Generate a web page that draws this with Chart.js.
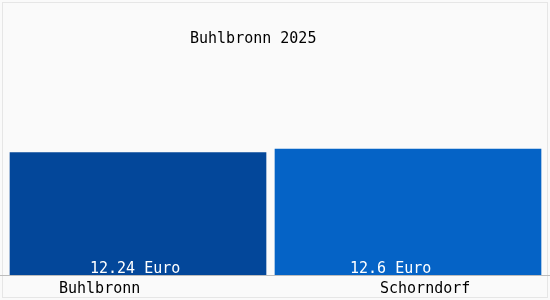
<!DOCTYPE html>
<html>
<head>
<meta charset="utf-8">
<script src="https://cdn.jsdelivr.net/npm/chart.js@4"></script>
<style>
  html, body { margin: 0; padding: 0; background: #fafafa; }
  #wrap { width: 550px; height: 300px; }
</style>
</head>
<body>
<div id="wrap"><canvas id="chart" width="550" height="300"></canvas></div>
<script>
// data
const titleText = 'Buhlbronn 2025';
const places = ['Buhlbronn', 'Schorndorf'];
const prices = [12.24, 12.6];
const priceLabels = ['12.24 Euro', '12.6 Euro'];
const barColors = ['#03479a', '#0563c6'];
const barWidths = [256, 266];

const FONT = '15px "DejaVu Sans Mono", monospace';

// frame, title and the text under / inside the bars
const decor = {
    id: 'decor',
    beforeDraw(chart) {
        const c = chart.ctx;
        c.save();
        c.fillStyle = '#fafafa';
        c.fillRect(0, 0, chart.width, chart.height);
        c.strokeStyle = '#e6e6e6';
        c.lineWidth = 1;
        c.strokeRect(2.5, 2.5, chart.width - 5, chart.height - 5);
        c.restore();
    },
    afterDatasetsDraw(chart) {
        const c = chart.ctx;
        const base = chart.chartArea.bottom;
        c.save();
        c.strokeStyle = '#bdbdbd';
        c.beginPath();
        c.moveTo(0, base + 0.5);
        c.lineTo(chart.width, base + 0.5);
        c.stroke();

        c.font = FONT;
        c.textAlign = 'left';
        c.textBaseline = 'alphabetic';
        c.fillStyle = '#000';
        c.fillText(titleText, 190, 43);

        const valueShift = [-48, -58];
        const nameShift = [-79, -28];
        places.forEach((p, i) => {
            const bar = chart.getDatasetMeta(i).data[i];
            c.fillStyle = '#ffffff';
            c.fillText(priceLabels[i], bar.x + valueShift[i], base - 2);
            c.fillStyle = '#000000';
            c.fillText(p, bar.x + nameShift[i], base + 18);
        });
        c.restore();
    }
};

// one dataset per place so each bar can keep its own width
const datasets = places.map((p, i) => ({
    label: p,
    data: prices.map((v, j) => (j === i ? v : null)),
    backgroundColor: barColors[i],
    borderWidth: 0,
    barThickness: barWidths[i],
    skipNull: true
}));

new Chart(document.getElementById('chart'), {
    type: 'bar',
    data: { labels: places, datasets },
    options: {
        responsive: false,
        animation: false,
        layout: { padding: { top: 56, bottom: 25, left: 3, right: 7 } },
        plugins: {
            legend: { display: false },
            tooltip: { enabled: false },
            title: { display: false }
        },
        scales: {
            x: { display: false },
            y: { display: false, min: 0, max: 21.9 }
        }
    },
    plugins: [decor]
});
</script>
</body>
</html>
